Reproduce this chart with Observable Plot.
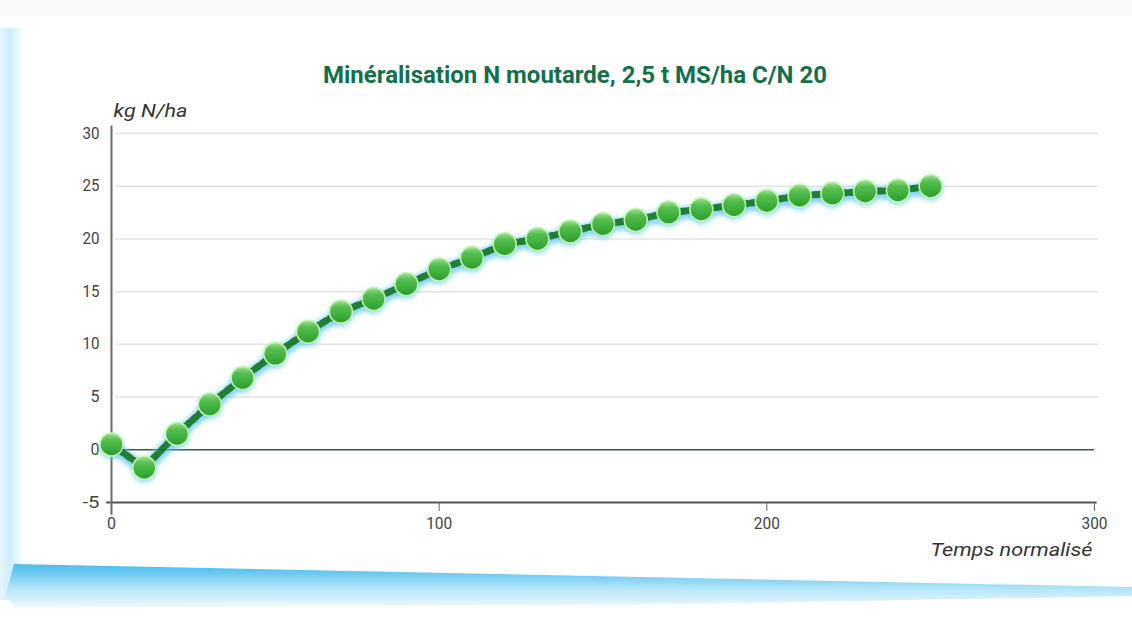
<!DOCTYPE html>
<html>
<head>
<meta charset="utf-8">
<script src="https://cdn.jsdelivr.net/npm/d3@7"></script>
<script src="https://cdn.jsdelivr.net/npm/@observablehq/plot@0.6"></script>
<style>
  html, body { margin: 0; padding: 0; background: #ffffff; }
  #page { position: relative; width: 1132px; height: 633px; overflow: hidden; background: #ffffff; }
  #haut { position: absolute; left: 0; top: 0; width: 1132px; height: 16px; background: #f9f9f9; }
  #bandeGauche { position: absolute; left: 0; top: 28px; width: 24px; height: 572px;
    background: linear-gradient(to right, #e6f6fc 0%, #cdeefa 45%, #eef9fd 80%, #ffffff 100%); }
  #vague { position: absolute; left: 0; top: 552px; width: 1132px; height: 60px;
    background: linear-gradient(to bottom, #3ab0ea 0%, #5fc3f0 30%, #b5e5f8 62%, #ffffff 100%);
    clip-path: polygon(14px 12px, 1132px 35px, 1132px 44px, 700px 52px, 14px 56px, 6px 42px); }
  #chart { position: absolute; left: 0; top: 0; }
</style>
</head>
<body>
<div id="page">
  <div id="haut"></div>
  <div id="bandeGauche"></div>
  <div id="vague"></div>
  <div id="chart"></div>
</div>
<script>
const titre = "Minéralisation N moutarde, 2,5 t MS/ha C/N 20";
const labelY = "kg N/ha";
const labelX = "Temps normalisé";
const temps = [0, 10, 20, 30, 40, 50, 60, 70, 80, 90, 100, 110, 120, 130, 140, 150, 160, 170, 180, 190, 200, 210, 220, 230, 240, 250];
const azote = [0.5, -1.7, 1.5, 4.3, 6.8, 9.1, 11.2, 13.1, 14.3, 15.7, 17.1, 18.2, 19.5, 20.0, 20.7, 21.4, 21.8, 22.5, 22.8, 23.2, 23.6, 24.1, 24.3, 24.5, 24.6, 25.0];
const xTicks = [0, 100, 200, 300];
const yTicks = [-5, 0, 5, 10, 15, 20, 25, 30];

const data = temps.map((t, i) => ({t, n: azote[i]}));
const police = "Roboto, 'Liberation Sans', sans-serif";

const chart = Plot.plot({
  width: 1132,
  height: 633,
  marginLeft: 111,
  marginRight: 38,
  marginTop: 133,
  marginBottom: 131,
  style: {background: "transparent", fontFamily: police, fontSize: "15px", color: "#444"},
  x: {type: "linear", domain: [0, 300], label: null},
  y: {type: "linear", domain: [-5, 30], label: null},
  marks: [
    Plot.ruleY(yTicks.filter(d => d > 0), {stroke: "#e4e4e4", strokeWidth: 1.5, dx: 4}),
    Plot.ruleY([0], {stroke: "#2f5d55", strokeWidth: 1.5}),
    Plot.ruleY([-5], {x1: -1.5, x2: 300.8, stroke: "#555", strokeWidth: 2}),
    Plot.ruleX([0], {y1: -6.2, y2: 30.7, stroke: "#6a6a6a", strokeWidth: 2}),
    Plot.axisX(xTicks, {anchor: "bottom", tickSize: 9, tickPadding: 6, stroke: "#666", fill: "#444", fontSize: 16, label: null}),
    Plot.axisY(yTicks, {anchor: "left", tickSize: 0, tickPadding: 12, fill: "#444", fontSize: 16, tickFormat: d => String(d), label: null}),
    // halo bleu
    Plot.line(data, {x: "t", y: "n", stroke: "#52c0f2", strokeWidth: 12, dy: 2, strokeOpacity: 0.7}),
    Plot.dot(data, {x: "t", y: "n", r: 12, dy: 2.5, fill: "#6ccdf5", fillOpacity: 0.75, stroke: "none"}),
    // ligne pointillée
    Plot.line(data, {x: "t", y: "n", stroke: "#1f7f36", strokeWidth: 7, strokeDasharray: "5,4"}),
    // billes
    Plot.dot(data, {x: "t", y: "n", r: 11.5, fill: "url(#bille)", stroke: "#c4f5ad", strokeWidth: 1.6}),
    Plot.text([titre], {frameAnchor: "top", dx: -28, dy: -68, fontSize: 24, fontWeight: "bold", fill: "#13704a"}),
    Plot.text([labelY], {x: 0, y: 30, dx: 2, dy: -22, textAnchor: "start", fontStyle: "italic", fontSize: 18, fill: "#333"}),
    Plot.text([labelX], {x: 300, y: -5, dx: -2, dy: 48, textAnchor: "end", fontStyle: "italic", fontSize: 18, fill: "#333"})
  ]
});

const ns = "http://www.w3.org/2000/svg";
const defs = document.createElementNS(ns, "defs");
defs.innerHTML = `
  <linearGradient id="bille" x1="0" y1="0" x2="0" y2="1">
    <stop offset="0%" stop-color="#a6e39a"/>
    <stop offset="30%" stop-color="#55be4e"/>
    <stop offset="70%" stop-color="#3aad3a"/>
    <stop offset="100%" stop-color="#2d9a33"/>
  </linearGradient>
  <filter id="flou" x="-20%" y="-20%" width="140%" height="140%">
    <feGaussianBlur stdDeviation="2.5"/>
  </filter>`;
chart.insertBefore(defs, chart.firstChild);
const lines = chart.querySelectorAll('g[aria-label="line"]');
const dots = chart.querySelectorAll('g[aria-label="dot"]');
if (lines[0]) lines[0].setAttribute("filter", "url(#flou)");
if (dots[0]) dots[0].setAttribute("filter", "url(#flou)");
// texte condensé comme dans l'original
const condense = (t, w) => { t.setAttribute("textLength", String(w)); t.setAttribute("lengthAdjust", "spacingAndGlyphs"); };
chart.querySelectorAll('g[aria-label="text"] text').forEach(t => {
  if (t.textContent === titre) condense(t, 504);
  if (t.textContent === labelX) condense(t, 162);
  if (t.textContent === labelY) condense(t, 74);
});
// étiquettes des graduations légèrement condensées
chart.querySelectorAll('g[aria-label="y-axis tick label"] text, g[aria-label="x-axis tick label"] text').forEach(t => {
  const n = t.textContent.length;
  condense(t, Math.round(n * 8.6));
});
document.getElementById("chart").appendChild(chart);
</script>
</body>
</html>
